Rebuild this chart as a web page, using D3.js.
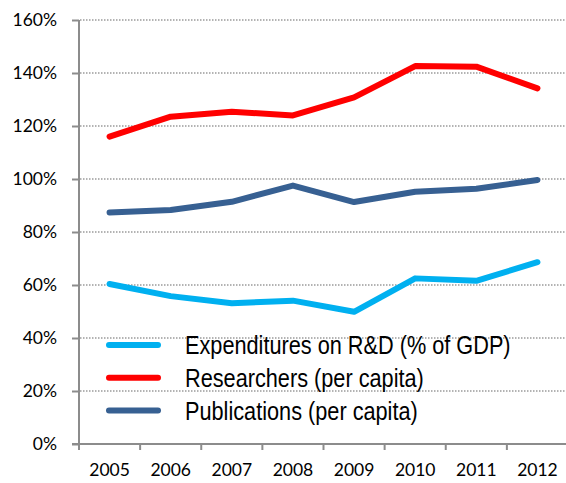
<!DOCTYPE html>
<html>
<head>
<meta charset="utf-8">
<script src="https://cdn.jsdelivr.net/npm/d3@7"></script>
<style>
  html, body { margin: 0; padding: 0; background: #fff; }
  svg { display: block; }
</style>
</head>
<body>
<svg id="chart" width="566" height="483"></svg>
<script>
const years = ["2005", "2006", "2007", "2008", "2009", "2010", "2011", "2012"];
const expenditures = [60.4, 55.8, 53.1, 54.1, 49.9, 62.5, 61.6, 68.6];
const researchers = [116.0, 123.5, 125.4, 124.0, 130.8, 142.6, 142.4, 134.2];
const publications = [87.4, 88.3, 91.4, 97.5, 91.3, 95.2, 96.3, 99.6];
const yTicks = [0, 20, 40, 60, 80, 100, 120, 140, 160];
const seriesNames = ["Expenditures on R&D (% of GDP)", "Researchers (per capita)", "Publications (per capita)"];
const seriesColors = ["#00B0F0", "#FF0000", "#376092"];
const seriesData = [expenditures, researchers, publications];

const svg = d3.select("#chart");
const x = d3.scaleBand().domain(years).range([79, 568]);
const y = d3.scaleLinear().domain([0, 160]).range([444, 20]);
const gridRight = 566;
const axisColor = "#8c8c8c";
const tickFont = "Lato, 'Open Sans', sans-serif";

// gridlines
svg.append("g").selectAll("line")
  .data(yTicks.filter(d => d > 0))
  .join("line")
  .attr("x1", 80).attr("x2", gridRight)
  .attr("y1", d => y(d)).attr("y2", d => y(d))
  .attr("stroke", "#9a9a9a")
  .attr("stroke-width", 1.5)
  .attr("stroke-dasharray", "1.5,1.5");

// y axis
const yAxis = d3.axisLeft(y).tickValues(yTicks).tickSize(7).tickPadding(15)
  .tickFormat(d => d + "%");
const gy = svg.append("g").attr("transform", "translate(79,0)").call(yAxis);
gy.select(".domain").attr("stroke", axisColor).attr("stroke-width", 2).attr("d", `M0,${y(160)}V${y(0)}`);
gy.selectAll(".tick line").attr("stroke", axisColor).attr("stroke-width", 2);
gy.selectAll(".tick text").attr("font-family", tickFont).attr("font-size", 17.5)
  .attr("fill", "#000").attr("dy", "0.34em");

// x axis
const xAxis = d3.axisBottom(x).tickSize(0).tickPadding(20);
const gx = svg.append("g").attr("transform", "translate(0,444)").call(xAxis);
gx.select(".domain").attr("stroke", axisColor).attr("stroke-width", 2).attr("d", `M72,0H${gridRight}`);
gx.selectAll(".tick text").attr("font-family", tickFont).attr("font-size", 17.5)
  .attr("fill", "#000").attr("dy", "0.71em");
// band boundary tick marks
gx.append("g").selectAll("line")
  .data(years.map(d => x(d)).concat([x(years[years.length - 1]) + x.bandwidth()]))
  .join("line")
  .attr("x1", d => d).attr("x2", d => d)
  .attr("y1", 0).attr("y2", 6)
  .attr("stroke", axisColor).attr("stroke-width", 2);

// lines
const line = d3.line()
  .x((d, i) => x(years[i]) + x.bandwidth() / 2)
  .y(d => y(d));

// draw order: publications, expenditures, researchers
[2, 0, 1].forEach(k => {
  svg.append("path")
    .datum(seriesData[k])
    .attr("d", line)
    .attr("fill", "none")
    .attr("stroke", seriesColors[k])
    .attr("stroke-width", 6)
    .attr("stroke-linecap", "round")
    .attr("stroke-linejoin", "round");
});

// legend
const legend = svg.append("g").attr("transform", "translate(106,345)");
seriesNames.forEach((name, i) => {
  const g = legend.append("g").attr("transform", `translate(0,${i * 32.8})`);
  g.append("rect").attr("x", 0).attr("y", -3).attr("width", 55).attr("height", 6)
    .attr("rx", 3).attr("fill", seriesColors[i]);
  g.append("text").attr("transform", "translate(79,0) scale(0.835,1)")
    .attr("dy", "0.36em")
    .attr("font-family", "'Liberation Sans', Arial, sans-serif")
    .attr("font-size", 26).attr("fill", "#000").text(name);
});
</script>
</body>
</html>
